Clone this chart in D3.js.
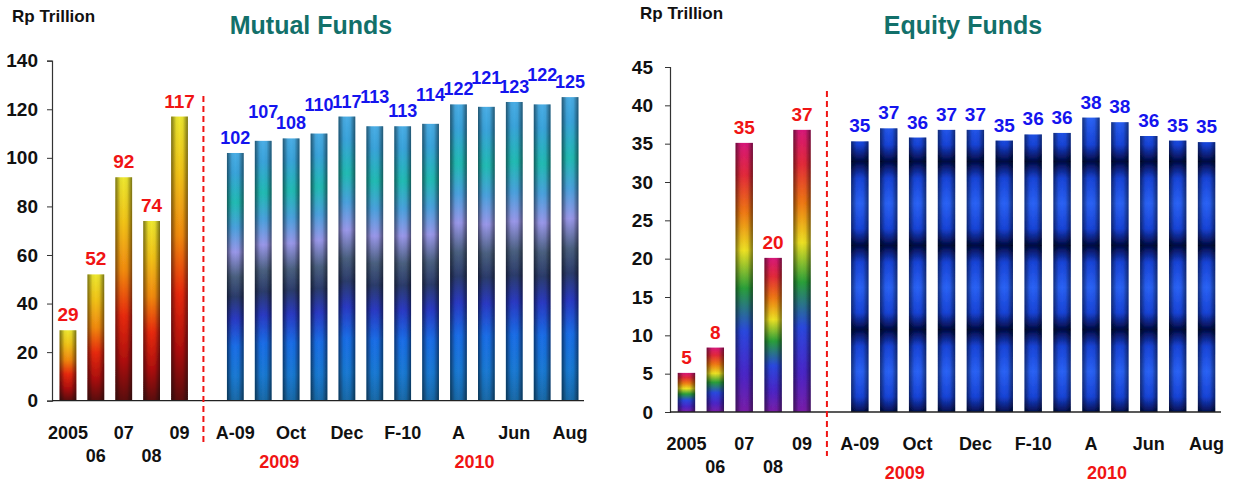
<!DOCTYPE html>
<html>
<head>
<meta charset="utf-8">
<script src="https://cdn.jsdelivr.net/npm/d3@7"></script>
<style>
  body { margin: 0; background: #fff; }
  text { font-family: "Liberation Sans", Arial, sans-serif; font-weight: bold; }
</style>
</head>
<body>
<svg id="chart" width="1236" height="486"></svg>
<script>
// categories
const yearCats = ["2005", "06", "07", "08", "09"];
const monthCats = ["A-09", "Sep", "Oct", "Nov", "Dec", "Jan", "F-10", "Mar", "A", "May", "Jun", "Jul", "Aug"];
const monthTicks = ["A-09", "Oct", "Dec", "F-10", "A", "Jun", "Aug"];
const yearGroups = ["2009", "2010"];

// values (Rp trillion)
const mutualYear = [29, 52, 92, 74, 117];
const mutualMonth = [102, 107, 108, 110, 117, 113, 113, 114, 122, 121, 123, 122, 125];
const equityYear = [5.1, 8.4, 35.1, 20.1, 36.8];
const equityMonth = [35.3, 37.0, 35.8, 36.8, 36.8, 35.4, 36.2, 36.4, 38.4, 37.8, 36.0, 35.4, 35.2];

// y ticks
const mutualTicks = [0, 20, 40, 60, 80, 100, 120, 140];
const equityTicks = [0, 5, 10, 15, 20, 25, 30, 35, 40, 45];

const svg = d3.select("#chart");
const defs = svg.append("defs");

function grad(id, stops, attrs) {
  const g = defs.append("linearGradient").attr("id", id);
  Object.entries(attrs).forEach(([k, v]) => g.attr(k, v));
  stops.forEach(s => g.append("stop").attr("offset", s[0]).attr("stop-color", s[1]).attr("stop-opacity", s[2] == null ? 1 : s[2]));
  return g;
}

const vert = { x1: 0, y1: 0, x2: 0, y2: 1 };

// horizontal shading for the cylinder look
grad("shade", [[0, "#000", 0.5], [0.3, "#000", 0.05], [0.5, "#000", 0], [0.7, "#000", 0.05], [1, "#000", 0.5]], { x1: 0, y1: 0, x2: 1, y2: 0 });

grad("fire", [[0, "#eee830"], [0.2, "#f2c418"], [0.42, "#f28a10"], [0.62, "#e82a10"], [0.82, "#b01010"], [1, "#5a0c0c"]], vert);
grad("teal", [[0, "#4aaee6"], [0.08, "#3aa4dc"], [0.2, "#22bcb4"], [0.3, "#4aa2de"], [0.4, "#9a98ea"], [0.5, "#4a6080"], [0.58, "#2c3c6c"], [0.67, "#2a3ac4"], [0.78, "#1a6ee8"], [0.9, "#1a7ad4"], [1, "#1a6aa8"]], vert);
grad("rainbow", [[0, "#d8187a"], [0.12, "#e42a3a"], [0.26, "#f07a12"], [0.4, "#eee224"], [0.54, "#2aa03a"], [0.7, "#2a48e0"], [0.86, "#4a26c8"], [1, "#7a1ea8"]], vert);

const filter = defs.append("filter").attr("id", "soft");
filter.append("feGaussianBlur").attr("stdDeviation", 0.5);

function drawChart(cfg) {
  const g = svg.append("g");
  const cats = [...yearCats, "gap", ...monthCats];
  const x = d3.scaleBand().domain(cats).range(cfg.xRange).paddingInner(0.4).paddingOuter(0.2);
  const y = d3.scaleLinear().domain([0, cfg.yMax]).range(cfg.yRange);
  const bw = x.bandwidth();
  const base = y(0);

  if (cfg.navyId) {
    const top = y(27.2);
    grad(cfg.navyId, [[0, "#2a62f6"], [0.3, "#1844d8"], [0.5, "#020a44"], [0.7, "#1844d8"], [1, "#2a62f6"]],
      { gradientUnits: "userSpaceOnUse", spreadMethod: "repeat", x1: 0, x2: 0, y1: top, y2: top + 84 });
  }

  // titles
  g.append("text").attr("x", cfg.unitX).attr("y", cfg.unitY)
    .attr("font-size", 17).attr("fill", "#111").text("Rp Trillion");
  g.append("text").attr("x", cfg.titleX).attr("y", 34).attr("text-anchor", "middle")
    .attr("font-size", 25).attr("fill", "#12706a").text(cfg.title);

  // y axis
  const ya = g.append("g").attr("transform", `translate(${cfg.xRange[0] - 2},0)`)
    .call(d3.axisLeft(y).tickValues(cfg.ticks).tickSize(5).tickPadding(cfg.tickPad));
  ya.select(".domain").attr("stroke", "#333").attr("stroke-width", 1.2);
  ya.selectAll(".tick line").attr("stroke", "#333");
  ya.selectAll(".tick text").attr("font-size", 19).attr("fill", "#111")
    .style("font-family", "'Liberation Sans', Arial, sans-serif").style("font-weight", "bold");

  // bars
  const rows = [
    ...yearCats.map((c, i) => ({ c, i, v: cfg.yearVals[i], fill: cfg.yearFill, col: "#f01414", month: false })),
    ...monthCats.map((c, i) => ({ c, i, v: cfg.monthVals[i], fill: cfg.monthFill, col: "#1414ee", month: true }))
  ];

  const bars = g.append("g").attr("filter", "url(#soft)");
  bars.selectAll("rect.bar").data(rows).join("rect").attr("class", "bar")
    .attr("x", d => x(d.c)).attr("width", bw)
    .attr("y", d => y(d.v)).attr("height", d => base - y(d.v))
    .attr("fill", d => `url(#${d.fill})`);
  bars.selectAll("rect.shade").data(rows).join("rect").attr("class", "shade")
    .attr("x", d => x(d.c)).attr("width", bw)
    .attr("y", d => y(d.v)).attr("height", d => base - y(d.v))
    .attr("fill", "url(#shade)");

  // value labels (stagger crowded monthly labels)
  g.selectAll("text.val").data(rows).join("text").attr("class", "val")
    .attr("x", d => x(d.c) + bw / 2)
    .attr("y", d => y(d.v) - (cfg.stagger && d.month && d.i % 2 ? 23 : 9))
    .attr("text-anchor", "middle").attr("font-size", d => cfg.stagger && d.month ? 18 : 19).attr("fill", d => d.col)
    .text(d => d3.format(".0f")(d.v));

  // x axis line
  g.append("line").attr("x1", cfg.xRange[0] - 2).attr("x2", cfg.xRange[1])
    .attr("y1", base).attr("y2", base).attr("stroke", "#222").attr("stroke-width", 1.3);

  // category labels
  g.selectAll("text.yr").data(yearCats).join("text").attr("class", "yr")
    .attr("x", d => x(d) + bw / 2).attr("y", (d, i) => base + (i % 2 ? 61 : 38))
    .attr("text-anchor", "middle").attr("font-size", 18).attr("fill", "#111").text(d => d);
  g.selectAll("text.mo").data(monthTicks).join("text").attr("class", "mo")
    .attr("x", d => x(d) + bw / 2).attr("y", base + 38)
    .attr("text-anchor", "middle").attr("font-size", 18).attr("fill", "#111").text(d => d);

  // year group labels
  const groupAt = ["Sep", "A"];
  g.selectAll("text.grp").data(yearGroups).join("text").attr("class", "grp")
    .attr("x", (d, i) => x(groupAt[i]) + bw / 2 + 16).attr("y", base + 67)
    .attr("text-anchor", "middle").attr("font-size", 18).attr("fill", "#f01414").text(d => d);

  // dashed divider
  const dx = x("gap") + bw / 2 - 4;
  g.append("line").attr("x1", dx).attr("x2", dx).attr("y1", cfg.dashTop).attr("y2", base + 44)
    .attr("stroke", "#f01414").attr("stroke-width", 2).attr("stroke-dasharray", "6,4");
}

drawChart({
  title: "Mutual Funds", titleX: 311, unitX: 12, unitY: 22,
  xRange: [54, 584], yMax: 140, yRange: [400.7, 60.7], ticks: mutualTicks, tickPad: 9,
  yearVals: mutualYear, monthVals: mutualMonth, yearFill: "fire", monthFill: "teal",
  dashTop: 96, stagger: true
});

drawChart({
  title: "Equity Funds", titleX: 963, unitX: 640, unitY: 19,
  xRange: [672, 1221], yMax: 45, yRange: [412, 67], ticks: equityTicks, tickPad: 12,
  yearVals: equityYear, monthVals: equityMonth, yearFill: "rainbow", monthFill: "navy", navyId: "navy",
  dashTop: 91, stagger: false
});
</script>
</body>
</html>
